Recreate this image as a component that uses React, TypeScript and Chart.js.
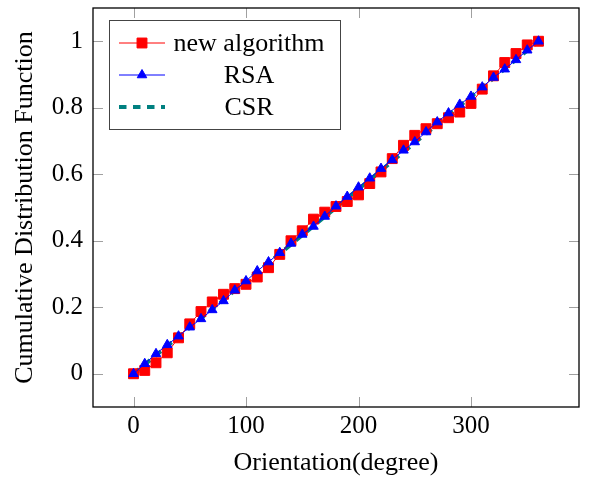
import React, { useEffect, useRef } from "react";
import { Chart, registerables } from "chart.js";

Chart.register(...registerables);

// ---------- data ----------
const orientation = [
  0, 10, 20, 30, 40, 50, 60, 70, 80, 90, 100, 110, 120, 130, 140, 150, 160, 170, 180,
  190, 200, 210, 220, 230, 240, 250, 260, 270, 280, 290, 300, 310, 320, 330, 340, 350, 360,
];
const newAlgorithm = [
  0, 0.01, 0.033, 0.063, 0.108, 0.15, 0.187, 0.216, 0.239, 0.256, 0.269, 0.291, 0.319,
  0.359, 0.4, 0.43, 0.465, 0.486, 0.503, 0.518, 0.538, 0.572, 0.607, 0.647, 0.687, 0.717,
  0.737, 0.752, 0.77, 0.787, 0.813, 0.856, 0.896, 0.936, 0.963, 0.989, 1.0,
];
const rsa = [
  0, 0.03, 0.06, 0.087, 0.113, 0.14, 0.165, 0.192, 0.219, 0.251, 0.279, 0.309, 0.336,
  0.364, 0.392, 0.419, 0.443, 0.473, 0.504, 0.533, 0.561, 0.588, 0.617, 0.643, 0.672,
  0.697, 0.727, 0.757, 0.784, 0.81, 0.834, 0.862, 0.891, 0.916, 0.944, 0.973, 1.0,
];
const csrX = [0, 360];
const csrY = [0, 1];

const seriesNames = ["new algorithm", "RSA", "CSR"];
const xTickValues = [0, 100, 200, 300];
const xTickLabels = ["0", "100", "200", "300"];
const yTickValues = [0, 0.2, 0.4, 0.6, 0.8, 1];
const yTickLabels = ["0", "0.2", "0.4", "0.6", "0.8", "1"];
const xTitle = "Orientation(degree)";
const yTitle = "Cumulative Distribution Function";

const FONT = "'Liberation Serif', 'Times New Roman', serif";
const RED = "#ff0000";
const BLUE = "#0000ff";
const TEAL = "#008080";

const frameAndLegend = {
  id: "frameAndLegend",
  afterDatasetsDraw(chart: any) {
    const { ctx, chartArea } = chart;
    const { left, right, top, bottom } = chartArea;
    const xs = chart.scales.x;
    const ys = chart.scales.y;
    ctx.save();
    // inward ticks
    ctx.strokeStyle = "#a0a0a0";
    ctx.lineWidth = 1;
    const tl = 10;
    ctx.beginPath();
    xTickValues.forEach((v) => {
      const px = Math.round(xs.getPixelForValue(v)) + 0.5;
      ctx.moveTo(px, bottom);
      ctx.lineTo(px, bottom - tl);
      ctx.moveTo(px, top);
      ctx.lineTo(px, top + tl);
    });
    yTickValues.forEach((v) => {
      const py = Math.round(ys.getPixelForValue(v)) + 0.5;
      ctx.moveTo(left, py);
      ctx.lineTo(left + tl, py);
      ctx.moveTo(right, py);
      ctx.lineTo(right - tl, py);
    });
    ctx.stroke();
    // frame
    ctx.strokeStyle = "#000";
    ctx.lineWidth = 1.3;
    ctx.strokeRect(left, top, right - left, bottom - top);

    // legend
    const lx = left + 16;
    const ly = top + 12;
    const lw = 231;
    const lh = 109;
    ctx.fillStyle = "#fff";
    ctx.fillRect(lx, ly, lw, lh);
    ctx.strokeStyle = "#444";
    ctx.lineWidth = 1;
    ctx.strokeRect(lx + 0.5, ly + 0.5, lw, lh);
    const ds = chart.data.datasets;
    for (let i = 0; i < 3; i++) {
      const cy = ly + 23 + 32 * i;
      const x1 = lx + 10;
      const x2 = lx + 56;
      const mx = lx + 33;
      const d = ds[i];
      ctx.save();
      ctx.strokeStyle = d.borderColor;
      ctx.lineWidth = d.borderWidth;
      ctx.setLineDash(d.borderDash || []);
      ctx.beginPath();
      ctx.moveTo(x1, cy);
      ctx.lineTo(x2, cy);
      ctx.stroke();
      ctx.restore();
      ctx.fillStyle = d.backgroundColor;
      ctx.strokeStyle = d.borderColor;
      ctx.lineWidth = 1;
      if (d.pointStyle === "rect") {
        const s = d.pointRadius * Math.SQRT1_2;
        ctx.beginPath();
        ctx.rect(mx - s, cy - s, 2 * s, 2 * s);
        ctx.fill();
        ctx.stroke();
      } else if (d.pointStyle === "triangle") {
        const r = d.pointRadius;
        ctx.beginPath();
        ctx.moveTo(mx, cy - r);
        ctx.lineTo(mx + r * Math.sin((2 * Math.PI) / 3), cy - r * Math.cos((2 * Math.PI) / 3));
        ctx.lineTo(mx + r * Math.sin((4 * Math.PI) / 3), cy - r * Math.cos((4 * Math.PI) / 3));
        ctx.closePath();
        ctx.fill();
        ctx.stroke();
      }
      ctx.fillStyle = "#000";
      ctx.font = `26px ${FONT}`;
      ctx.textAlign = "center";
      ctx.textBaseline = "alphabetic";
      ctx.fillText(seriesNames[i], lx + 140, cy + 8);
    }
    ctx.restore();
  },
};

export default function App() {
  const ref = useRef<HTMLCanvasElement | null>(null);
  useEffect(() => {
    if (!ref.current) return;
    const chart = new Chart(ref.current, {
      type: "line",
      data: {
        datasets: [
          {
            label: seriesNames[0],
            data: orientation.map((x, i) => ({ x, y: newAlgorithm[i] })),
            borderColor: RED,
            backgroundColor: RED,
            borderWidth: 1,
            pointStyle: "rect",
            pointRadius: 7,
            pointBorderWidth: 1,
            pointBackgroundColor: RED,
            pointBorderColor: RED,
            tension: 0,
            order: 1,
          } as any,
          {
            label: seriesNames[1],
            data: orientation.map((x, i) => ({ x, y: rsa[i] })),
            borderColor: BLUE,
            backgroundColor: BLUE,
            borderWidth: 1,
            pointStyle: "triangle",
            pointRadius: 5.5,
            pointBorderWidth: 1,
            pointBackgroundColor: BLUE,
            pointBorderColor: BLUE,
            tension: 0,
            order: 0,
          } as any,
          {
            label: seriesNames[2],
            data: csrX.map((x, i) => ({ x, y: csrY[i] })),
            borderColor: TEAL,
            backgroundColor: TEAL,
            borderWidth: 4,
            borderDash: [7.5, 6.5],
            pointRadius: 0,
            tension: 0,
            order: 2,
          } as any,
        ],
      },
      options: {
        animation: false,
        responsive: false,
        devicePixelRatio: 1,
        layout: { padding: { left: 0, right: 12, top: 5, bottom: 0 } },
        plugins: { legend: { display: false }, tooltip: { enabled: false } },
        scales: {
          x: {
            type: "linear",
            min: -36,
            max: 396,
            grid: { display: false, drawTicks: false },
            border: { display: false },
            afterBuildTicks: (s: any) => {
              s.ticks = xTickValues.map((v) => ({ value: v }));
            },
            afterFit: (s: any) => {
              s.height = 72;
              s.paddingLeft = 0;
              s.paddingRight = 0;
            },
            ticks: {
              padding: 4,
              color: "#000",
              font: { family: FONT, size: 25 },
              maxRotation: 0,
              callback: (v: any) => {
                const i = xTickValues.indexOf(Number(v));
                return i >= 0 ? xTickLabels[i] : "";
              },
            },
            title: {
              display: true,
              text: xTitle,
              color: "#000",
              font: { family: FONT, size: 26 },
              padding: { top: 0, bottom: 0 },
            },
          },
          y: {
            type: "linear",
            min: -0.1,
            max: 1.1,
            grid: { display: false, drawTicks: false },
            border: { display: false },
            afterBuildTicks: (s: any) => {
              s.ticks = yTickValues.map((v) => ({ value: v }));
            },
            afterFit: (s: any) => {
              s.width = 93;
              s.paddingTop = 0;
              s.paddingBottom = 0;
            },
            ticks: {
              padding: 10,
              color: "#000",
              font: { family: FONT, size: 25 },
              callback: (v: any) => {
                const i = yTickValues.findIndex((t) => Math.abs(t - Number(v)) < 1e-9);
                return i >= 0 ? yTickLabels[i] : "";
              },
            },
            title: {
              display: true,
              text: yTitle,
              color: "#000",
              font: { family: FONT, size: 26 },
              padding: { top: 10, bottom: 0 },
            },
          },
        },
      },
      plugins: [frameAndLegend],
    });
    return () => chart.destroy();
  }, []);
  return (
    <div style={{ position: "fixed", left: 0, top: 0, width: 591, height: 479, background: "#fff" }}>
      <canvas ref={ref} width={591} height={479} style={{ width: 591, height: 479, display: "block" }} />
    </div>
  );
}
